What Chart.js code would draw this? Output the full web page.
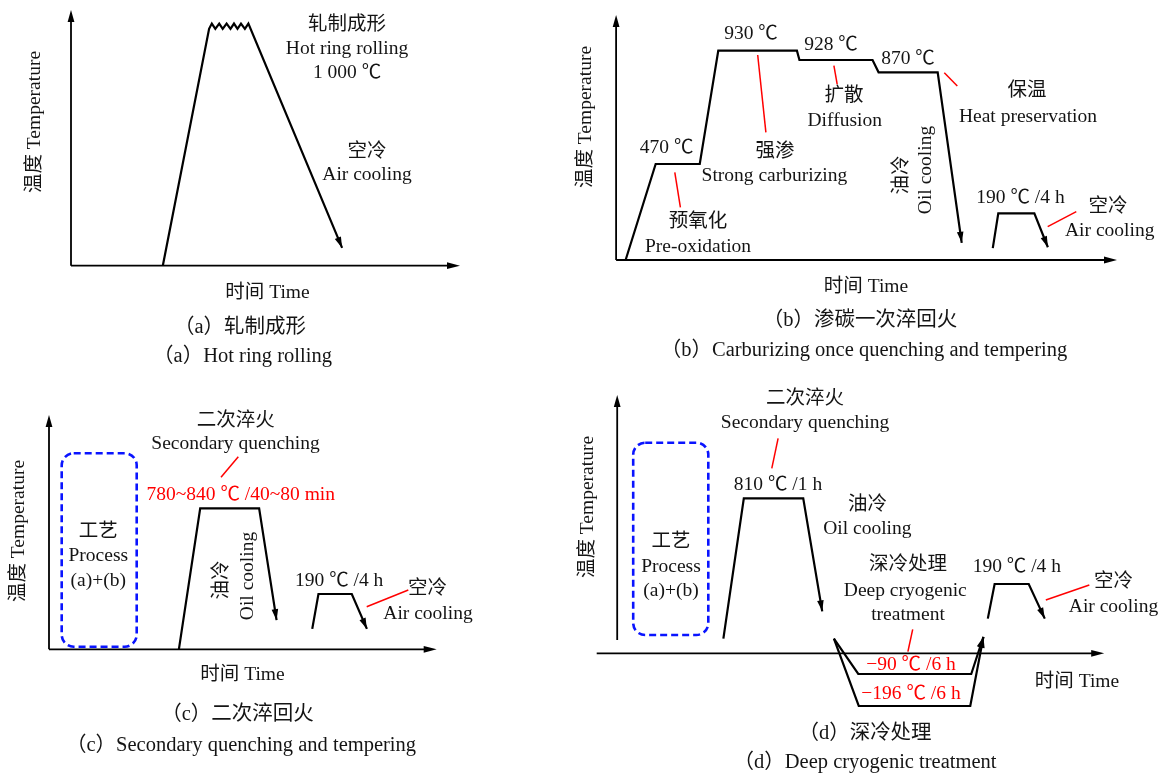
<!DOCTYPE html>
<html>
<head>
<meta charset="utf-8">
<script src="https://cdn.jsdelivr.net/npm/chart.js@4.4.1/dist/chart.umd.min.js"></script>
<style>
  html, body { margin: 0; padding: 0; background: #fff; }
  #page { position: relative; width: 1160px; height: 773px; overflow: hidden; background: #fff; }
  #page canvas { position: absolute; }
</style>
</head>
<body>
<div id="page">
  <canvas id="pa"></canvas>
  <canvas id="pb"></canvas>
  <canvas id="pc"></canvas>
  <canvas id="pd"></canvas>
</div>
<script>
// ---------------- process curves (time in schematic units 0–100, temperature in °C) ----------------

// (a) hot ring rolling: heat up, rolling at ~1000 °C (zig-zag), air cooling
const timeA = [23.6, 35.5, 36.2, 37.1, 38.1, 39.0, 40.0, 41.0, 41.9, 42.8, 43.7, 44.7, 45.6, 69.7];
const tempA = [0, 998, 1020, 998, 1020, 998, 1020, 998, 1020, 998, 1020, 998, 1020, 75];

// (b) carburizing + single quench, then tempering
const timeB1 = [1.9, 7.9, 16.7, 20.4, 36.1, 36.6, 51.2, 52.4, 64.2, 69.0];
const tempB1 = [0, 470, 470, 930, 930, 928, 928, 870, 870, 70];
const timeB2 = [75.2, 76.3, 83.5, 86.2];
const tempB2 = [48, 190, 190, 52];

// (c) secondary quenching + tempering
const timeC1 = [33.5, 39.0, 54.2, 58.7];
const tempC1 = [0, 810, 810, 100];
const timeC2 = [67.9, 69.5, 78.1, 82.0];
const tempC2 = [70, 190, 190, 70];

// (d) secondary quenching, deep cryogenic treatment (two routes), tempering
const timeD1 = [21.8, 26.0, 38.2, 42.1];
const tempD1 = [40, 810, 810, 115];
const timeD2 = [44.5, 49.5, 72.7, 75.2];
const tempD2 = [40, -90, -90, 45];
const timeD3 = [44.5, 49.6, 72.5, 75.2];
const tempD3 = [40, -196, -196, 45];
const timeD4 = [76.1, 77.5, 84.5, 87.8];
const tempD4 = [95, 190, 190, 95];

// ---------------- schematic (non-proportional) temperature axis ----------------
// knots: [temperature, fraction of axis height]; linear between knots, extrapolated at the ends
const LinearScale = Chart.LinearScale || Chart.registry.getScale('linear');
class SchematicScale extends LinearScale {
  static id = 'schematic';
  static defaults = { ticks: { callback: (v) => String(v) } };
  knots() {
    if (!this._knots) {
      const raw = this.chart.config.options.scales[this.id];
      this._knots = (raw && raw.knots) || [[0, 0], [1, 1]];
    }
    return this._knots;
  }
  levelOf(v) {
    const k = this.knots();
    let i = 1;
    while (i < k.length - 1 && v > k[i][0]) i++;
    const [t0, l0] = k[i - 1], [t1, l1] = k[i];
    return l0 + (v - t0) * (l1 - l0) / (t1 - t0);
  }
  getPixelForValue(v) {
    if (v === null || v === undefined || isNaN(v)) return NaN;
    return this.getPixelForDecimal(this.levelOf(v));
  }
  getValueForPixel(p) {
    const d = this.getDecimalForPixel(p);
    const k = this.knots();
    let i = 1;
    while (i < k.length - 1 && d > k[i][1]) i++;
    const [t0, l0] = k[i - 1], [t1, l1] = k[i];
    return t0 + (d - l0) * (t1 - t0) / (l1 - l0);
  }
}
Chart.register(SchematicScale);

// ---------------- drawing helpers ----------------
const FONT = '"Liberation Serif", "Times New Roman", "Noto Sans CJK SC", serif';
const RED = '#ff0000';
const BLUE = '#0a14ff';
const CAPTION = 20.5;

function arrowHead(ctx, x, y, ang, len, half) {
  ctx.save();
  ctx.translate(x, y);
  ctx.rotate(ang);
  ctx.beginPath();
  ctx.moveTo(0, 0);
  ctx.lineTo(-len, -half);
  ctx.lineTo(-len, half);
  ctx.closePath();
  ctx.fill();
  ctx.restore();
}

function roundRect(ctx, x0, y0, x1, y1, r) {
  ctx.beginPath();
  ctx.moveTo(x0 + r, y0);
  ctx.lineTo(x1 - r, y0);
  ctx.arcTo(x1, y0, x1, y0 + r, r);
  ctx.lineTo(x1, y1 - r);
  ctx.arcTo(x1, y1, x1 - r, y1, r);
  ctx.lineTo(x0 + r, y1);
  ctx.arcTo(x0, y1, x0, y1 - r, r);
  ctx.lineTo(x0, y0 + r);
  ctx.arcTo(x0, y0, x0 + r, y0, r);
  ctx.closePath();
}

const diagramPlugin = {
  id: 'diagram',
  beforeDatasetsDraw(chart, args, o) {
    const ctx = chart.ctx, a = chart.chartArea;
    ctx.save();
    ctx.strokeStyle = '#000';
    ctx.fillStyle = '#000';
    ctx.lineWidth = 1.8;
    // temperature axis
    ctx.beginPath();
    ctx.moveTo(a.left, a.bottom - (o.axisGap || 0));
    ctx.lineTo(a.left, a.top + 8);
    ctx.stroke();
    arrowHead(ctx, a.left, a.top, -Math.PI / 2, 12, 3.4);
    // time axis
    ctx.beginPath();
    ctx.moveTo(a.left - (o.axisLead || 0), a.bottom);
    ctx.lineTo(a.right - 8, a.bottom);
    ctx.stroke();
    arrowHead(ctx, a.right, a.bottom, 0, 13, 3.4);
    ctx.restore();
  },
  afterDatasetsDraw(chart, args, o) {
    const ctx = chart.ctx;
    const ox = o.origin[0], oy = o.origin[1];
    ctx.save();
    // arrowheads at the end of cooling curves
    ctx.fillStyle = '#000';
    chart.data.datasets.forEach((ds, i) => {
      if (!ds.arrow) return;
      const pts = chart.getDatasetMeta(i).data;
      const p = pts[pts.length - 1], q = pts[pts.length - 2];
      arrowHead(ctx, p.x, p.y, Math.atan2(p.y - q.y, p.x - q.x), 11, 3.3);
    });
    // red leader lines
    ctx.strokeStyle = RED;
    ctx.lineWidth = 1.5;
    (o.leaders || []).forEach(([x1, y1, x2, y2]) => {
      ctx.beginPath();
      ctx.moveTo(x1 - ox, y1 - oy);
      ctx.lineTo(x2 - ox, y2 - oy);
      ctx.stroke();
    });
    // dashed blue process frame
    (o.boxes || []).forEach(([x0, y0, x1, y1]) => {
      ctx.strokeStyle = BLUE;
      ctx.lineWidth = 2.6;
      ctx.setLineDash([7, 4]);
      roundRect(ctx, x0 - ox, y0 - oy, x1 - ox, y1 - oy, 12);
      ctx.stroke();
      ctx.setLineDash([]);
    });
    // texts
    ctx.textAlign = 'center';
    ctx.textBaseline = 'middle';
    (o.texts || []).forEach((t) => {
      ctx.font = (t.size || 19.5) + 'px ' + FONT;
      ctx.fillStyle = t.c || '#141414';
      ctx.save();
      ctx.translate(t.x - ox, t.y - oy);
      if (t.rot) ctx.rotate(t.rot * Math.PI / 180);
      ctx.fillText(t.t, 0, 0);
      ctx.restore();
    });
    ctx.restore();
  }
};

// ---------------- panel layout (page pixels) ----------------
const panels = [
  {
    id: 'pa', frame: [0, 0, 560, 386], axis: [71, 10, 460, 265.7],
    knots: [[0, 0], [1000, 0.9284]],
    series: [[timeA, tempA, true]],
    texts: [
      { t: '轧制成形', x: 347, y: 25 },
      { t: 'Hot ring rolling', x: 347, y: 49 },
      { t: '1 000 ℃', x: 347, y: 73 },
      { t: '空冷', x: 367, y: 152 },
      { t: 'Air cooling', x: 367, y: 175 },
      { t: '温度 Temperature', x: 35, y: 122, rot: -90 },
      { t: '时间 Time', x: 267.5, y: 293 },
      { t: '（a）轧制成形', x: 240, y: 328, size: CAPTION },
      { t: '（a）Hot ring rolling', x: 242.5, y: 357, size: CAPTION }
    ],
    leaders: [], boxes: []
  },
  {
    id: 'pb', frame: [560, 0, 600, 386], axis: [616.1, 15, 1117, 260],
    knots: [[0, 0], [190, 0.1906], [470, 0.3918], [870, 0.7661], [928, 0.8163], [930, 0.8543], [1000, 1]],
    series: [[timeB1, tempB1, true], [timeB2, tempB2, true]],
    texts: [
      { t: '930 ℃', x: 751, y: 34 },
      { t: '928 ℃', x: 831, y: 45 },
      { t: '870 ℃', x: 908, y: 59 },
      { t: '470 ℃', x: 666.6, y: 148 },
      { t: '强渗', x: 775, y: 152 },
      { t: 'Strong carburizing', x: 774.4, y: 176 },
      { t: '扩散', x: 844, y: 96 },
      { t: 'Diffusion', x: 844.7, y: 121 },
      { t: '保温', x: 1027, y: 91 },
      { t: 'Heat preservation', x: 1028, y: 117 },
      { t: '预氧化', x: 698, y: 222 },
      { t: 'Pre-oxidation', x: 698, y: 247 },
      { t: '油冷', x: 901.6, y: 175, rot: -90 },
      { t: 'Oil cooling', x: 925.7, y: 170, rot: -90 },
      { t: '190 ℃ /4 h', x: 1020.5, y: 198 },
      { t: '空冷', x: 1108, y: 207 },
      { t: 'Air cooling', x: 1109.7, y: 231 },
      { t: '温度 Temperature', x: 585.6, y: 117, rot: -90 },
      { t: '时间 Time', x: 866, y: 287 },
      { t: '（b）渗碳一次淬回火', x: 860, y: 321, size: CAPTION },
      { t: '（b）Carburizing once quenching and tempering', x: 864, y: 351, size: CAPTION }
    ],
    leaders: [
      [674.8, 172.3, 680.4, 207.3], [757.7, 55, 765.9, 132.3], [833.9, 65.7, 837.2, 84.3],
      [944.3, 72.7, 957.3, 86], [1047.7, 226.7, 1076.3, 211.7]
    ],
    boxes: []
  },
  {
    id: 'pc', frame: [0, 386, 560, 387], axis: [49, 415, 436.7, 649.3],
    knots: [[0, 0], [190, 0.236], [810, 0.6018], [1100, 1]],
    series: [[timeC1, tempC1, true], [timeC2, tempC2, true]],
    texts: [
      { t: '二次淬火', x: 235.8, y: 421 },
      { t: 'Secondary quenching', x: 235.5, y: 444 },
      { t: '780~840 ℃ /40~80 min', x: 240.8, y: 495, c: RED },
      { t: '工艺', x: 98.3, y: 532 },
      { t: 'Process', x: 98.3, y: 556 },
      { t: '(a)+(b)', x: 98.3, y: 581 },
      { t: '油冷', x: 221.7, y: 580, rot: -90 },
      { t: 'Oil cooling', x: 248.3, y: 576, rot: -90 },
      { t: '190 ℃ /4 h', x: 339.2, y: 581 },
      { t: '空冷', x: 427.5, y: 589 },
      { t: 'Air cooling', x: 428, y: 614 },
      { t: '温度 Temperature', x: 18.5, y: 531, rot: -90 },
      { t: '时间 Time', x: 242.5, y: 675 },
      { t: '（c）二次淬回火', x: 237.5, y: 715, size: CAPTION },
      { t: '（c）Secondary quenching and tempering', x: 241, y: 746, size: CAPTION }
    ],
    leaders: [[238.3, 456.7, 221, 477.3], [366.7, 606.7, 408.3, 590]],
    boxes: [[61.7, 453.3, 136.7, 646.7]]
  },
  {
    id: 'pd', frame: [560, 386, 600, 387], axis: [617.2, 395, 1104.2, 653.3],
    axisGap: 13.3, axisLead: 20.5,
    knots: [[-196, -0.204], [-90, -0.0801], [0, 0], [190, 0.2683], [810, 0.6001], [1100, 1]],
    series: [[timeD1, tempD1, true], [timeD2, tempD2, true], [timeD3, tempD3, true], [timeD4, tempD4, true]],
    texts: [
      { t: '二次淬火', x: 805, y: 399 },
      { t: 'Secondary quenching', x: 805, y: 423 },
      { t: '810 ℃ /1 h', x: 778, y: 485 },
      { t: '油冷', x: 867.4, y: 505 },
      { t: 'Oil cooling', x: 867.4, y: 529 },
      { t: '工艺', x: 671, y: 542 },
      { t: 'Process', x: 671, y: 567 },
      { t: '(a)+(b)', x: 671, y: 591 },
      { t: '深冷处理', x: 908, y: 565 },
      { t: 'Deep cryogenic', x: 905.3, y: 591 },
      { t: 'treatment', x: 908, y: 615 },
      { t: '190 ℃ /4 h', x: 1016.8, y: 567 },
      { t: '空冷', x: 1113.5, y: 582 },
      { t: 'Air cooling', x: 1113.5, y: 607 },
      { t: '−90 ℃ /6 h', x: 911, y: 665, c: RED },
      { t: '−196 ℃ /6 h', x: 911, y: 694, c: RED },
      { t: '温度 Temperature', x: 587.4, y: 507, rot: -90 },
      { t: '时间 Time', x: 1077, y: 682 },
      { t: '（d）深冷处理', x: 865, y: 734, size: CAPTION },
      { t: '（d）Deep cryogenic treatment', x: 865, y: 763, size: CAPTION }
    ],
    leaders: [[778.1, 438.3, 771.8, 468.3], [912.7, 629.3, 907.9, 651.7], [1045.8, 600, 1089.3, 585]],
    boxes: [[633.2, 442.7, 708.3, 635]]
  }
];

// ---------------- build one chart per panel ----------------
panels.forEach((p) => {
  const [fl, ft, fw, fh] = p.frame;
  const [x0, y0, x1, y1] = p.axis;
  const cv = document.getElementById(p.id);
  cv.width = fw; cv.height = fh;
  cv.style.left = fl + 'px'; cv.style.top = ft + 'px';
  cv.style.width = fw + 'px'; cv.style.height = fh + 'px';

  const datasets = p.series.map(([ts, temps, arrow]) => ({
    data: ts.map((t, i) => ({ x: t, y: temps[i] })),
    arrow: arrow,
    borderColor: '#000',
    borderWidth: 2.2,
    borderJoinStyle: 'miter',
    pointRadius: 0,
    tension: 0,
    fill: false,
    clip: false
  }));

  new Chart(cv, {
    type: 'line',
    data: { datasets },
    options: {
      responsive: false,
      animation: false,
      devicePixelRatio: 1,
      events: [],
      layout: { padding: { left: x0 - fl, top: y0 - ft, right: fl + fw - x1, bottom: ft + fh - y1 } },
      scales: {
        x: { type: 'linear', min: 0, max: 100, display: false },
        y: { type: 'schematic', min: -250, max: 1100, display: false, knots: p.knots }
      },
      plugins: {
        legend: { display: false },
        tooltip: { enabled: false },
        diagram: {
          origin: [fl, ft], texts: p.texts, leaders: p.leaders, boxes: p.boxes,
          axisGap: p.axisGap || 0, axisLead: p.axisLead || 0
        }
      }
    },
    plugins: [diagramPlugin]
  });
});
</script>
</body>
</html>
